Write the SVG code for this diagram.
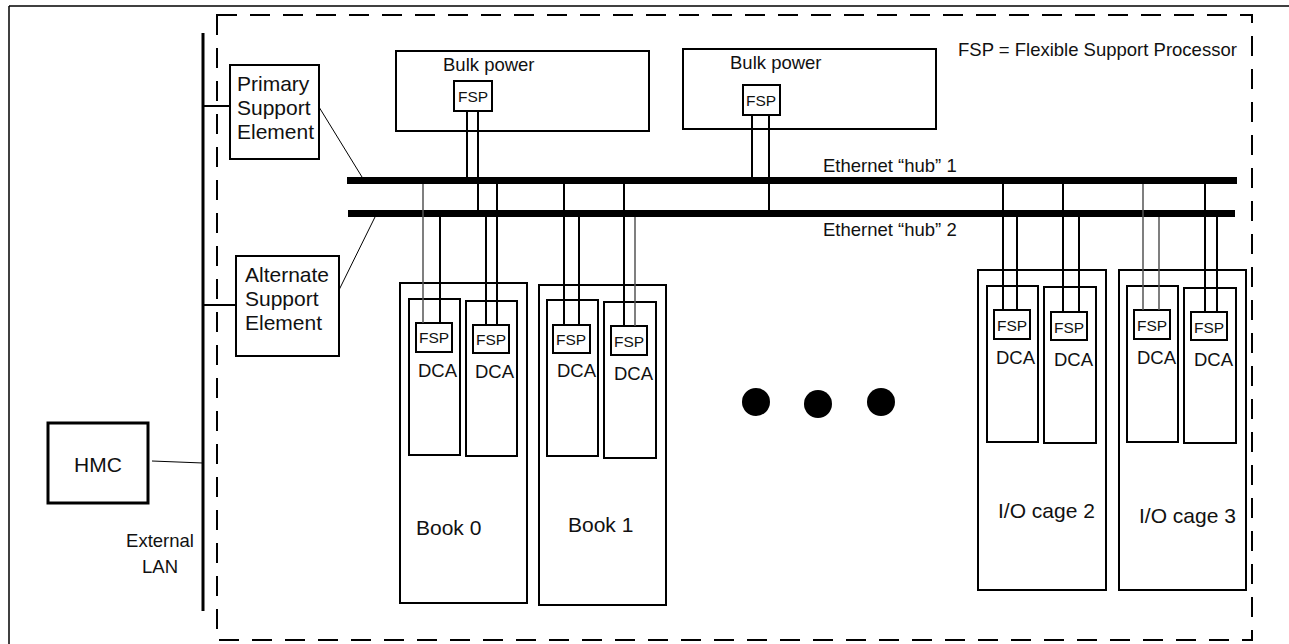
<svg xmlns="http://www.w3.org/2000/svg" width="1289" height="644" viewBox="0 0 1289 644">
<style>
text{font-family:"Liberation Sans",Arial,Helvetica,sans-serif;fill:#111}
.box{fill:none;stroke:#000;stroke-width:2}
.t21{font-size:21px}
.t18{font-size:18.5px}
.t15{font-size:15.5px}
.hub{stroke:#000;stroke-width:7}
.drop{stroke:#000;stroke-width:2}
.gray{stroke:#555;stroke-width:1.5}
.thin{stroke:#000;stroke-width:1}
</style>
<rect width="1289" height="644" fill="#fff"/>
<g id="frame">
<line x1="9" y1="6" x2="1289" y2="6" stroke="#000" stroke-width="1.5"/>
<line x1="9" y1="6" x2="9" y2="644" stroke="#000" stroke-width="1.5"/>
<rect x="217" y="15" width="1035" height="625" fill="none" stroke="#000" stroke-width="2" stroke-dasharray="20 13"/>
<text class="t18" x="958" y="56">FSP = Flexible Support Processor</text>
</g>
<g id="external-lan">
<line x1="203" y1="33" x2="203" y2="611" stroke="#000" stroke-width="3"/>
<text class="t18" x="160" y="547" text-anchor="middle">External</text>
<text class="t18" x="160" y="573" text-anchor="middle">LAN</text>
</g>
<g id="hub1">
<line class="hub" x1="347" y1="180.5" x2="1237" y2="180.5"/>
<text class="t18" x="823" y="172">Ethernet “hub” 1</text>
</g>
<g id="hub2">
<line class="hub" x1="348" y1="213.5" x2="1235" y2="213.5"/>
<text class="t18" x="823" y="236">Ethernet “hub” 2</text>
</g>
<g id="hmc">
<rect x="48" y="423" width="100" height="80" fill="none" stroke="#000" stroke-width="3"/>
<text class="t21" x="98" y="472" text-anchor="middle">HMC</text>
</g>
<g id="primary-se">
<rect class="box" x="230" y="65" width="89" height="94"/>
<text class="t21" x="237" y="91">Primary</text>
<text class="t21" x="237" y="115">Support</text>
<text class="t21" x="237" y="139">Element</text>
</g>
<g id="alternate-se">
<rect class="box" x="236" y="256" width="103" height="100"/>
<text class="t21" x="245" y="282">Alternate</text>
<text class="t21" x="245" y="306">Support</text>
<text class="t21" x="245" y="330">Element</text>
</g>
<g id="bulk-power-1">
<rect class="box" x="396" y="51" width="253" height="80"/>
<text class="t18" x="443" y="71">Bulk power</text>
<rect class="box" x="454" y="81" width="38" height="30"/>
<text class="t15" x="458" y="102">FSP</text>
</g>
<g id="bulk-power-2">
<rect class="box" x="683" y="49" width="253" height="80"/>
<text class="t18" x="730" y="69">Bulk power</text>
<rect class="box" x="743" y="85" width="37" height="30"/>
<text class="t15" x="746" y="106">FSP</text>
</g>
<g id="book-0">
<rect class="box" x="400" y="283" width="127" height="320"/>
<rect class="box" x="409" y="299" width="51" height="156"/>
<rect class="box" x="466" y="301" width="51" height="155"/>
<rect class="box" x="416" y="323" width="36" height="29"/>
<rect class="box" x="473" y="325" width="36" height="28"/>
<text class="t15" x="419" y="343">FSP</text>
<text class="t15" x="476" y="345">FSP</text>
<text class="t18" x="418" y="377">DCA</text>
<text class="t18" x="475" y="378">DCA</text>
<text class="t21" x="416" y="535">Book 0</text>
</g>
<g id="book-1">
<rect class="box" x="539" y="285" width="127" height="320"/>
<rect class="box" x="547" y="300" width="51" height="156"/>
<rect class="box" x="604" y="302" width="52" height="156"/>
<rect class="box" x="553" y="325" width="37" height="28"/>
<rect class="box" x="611" y="326" width="36" height="29"/>
<text class="t15" x="556" y="345">FSP</text>
<text class="t15" x="614" y="347">FSP</text>
<text class="t18" x="557" y="377">DCA</text>
<text class="t18" x="614" y="380">DCA</text>
<text class="t21" x="568" y="532">Book 1</text>
</g>
<g id="ellipsis">
<circle cx="756" cy="402" r="14" fill="#000"/>
<circle cx="818" cy="404" r="14" fill="#000"/>
<circle cx="881" cy="402" r="14" fill="#000"/>
</g>
<g id="io-cage-2">
<rect class="box" x="978" y="270" width="128" height="320"/>
<rect class="box" x="987" y="286" width="51" height="156"/>
<rect class="box" x="1044" y="287" width="52" height="156"/>
<rect class="box" x="994" y="310" width="36" height="29"/>
<rect class="box" x="1051" y="312" width="36" height="28"/>
<text class="t15" x="997" y="331">FSP</text>
<text class="t15" x="1054" y="333">FSP</text>
<text class="t18" x="996" y="364">DCA</text>
<text class="t18" x="1054" y="366">DCA</text>
<text class="t21" x="998" y="518">I/O cage 2</text>
</g>
<g id="io-cage-3">
<rect class="box" x="1119" y="270" width="127" height="320"/>
<rect class="box" x="1127" y="286" width="51" height="156"/>
<rect class="box" x="1184" y="288" width="52" height="155"/>
<rect class="box" x="1134" y="310" width="36" height="29"/>
<rect class="box" x="1191" y="312" width="36" height="28"/>
<text class="t15" x="1137" y="331">FSP</text>
<text class="t15" x="1194" y="333">FSP</text>
<text class="t18" x="1137" y="364">DCA</text>
<text class="t18" x="1194" y="366">DCA</text>
<text class="t21" x="1139" y="523">I/O cage 3</text>
</g>
<g id="connectors">
<line class="thin" x1="152" y1="461" x2="203" y2="463"/>
<line class="drop" x1="203" y1="106" x2="230" y2="106"/>
<line class="drop" x1="203" y1="305" x2="236" y2="305"/>
<line class="thin" x1="319" y1="107" x2="362" y2="177"/>
<line class="thin" x1="339" y1="290" x2="375" y2="217"/>
<line class="drop" x1="467" y1="112" x2="467" y2="177"/>
<line class="drop" x1="478" y1="112" x2="478" y2="210"/>
<line class="drop" x1="752" y1="116" x2="752" y2="177"/>
<line class="drop" x1="769" y1="116" x2="769" y2="210"/>
<line class="gray" x1="423" y1="184" x2="423" y2="323"/>
<line class="drop" x1="440" y1="217" x2="440" y2="323"/>
<line class="drop" x1="486" y1="217" x2="486" y2="325"/>
<line class="drop" x1="497" y1="184" x2="497" y2="325"/>
<line class="drop" x1="564" y1="184" x2="564" y2="325"/>
<line class="drop" x1="579" y1="217" x2="579" y2="325"/>
<line class="drop" x1="624" y1="184" x2="624" y2="326"/>
<line class="gray" x1="635" y1="217" x2="635" y2="326"/>
<line class="drop" x1="1003" y1="184" x2="1003" y2="310"/>
<line class="drop" x1="1017" y1="217" x2="1017" y2="310"/>
<line class="drop" x1="1063" y1="184" x2="1063" y2="312"/>
<line class="drop" x1="1079" y1="217" x2="1079" y2="312"/>
<line class="gray" x1="1143" y1="184" x2="1143" y2="310"/>
<line class="gray" x1="1159" y1="217" x2="1159" y2="310"/>
<line class="drop" x1="1205" y1="184" x2="1205" y2="312"/>
<line class="drop" x1="1217" y1="217" x2="1217" y2="312"/>
</g>
</svg>
